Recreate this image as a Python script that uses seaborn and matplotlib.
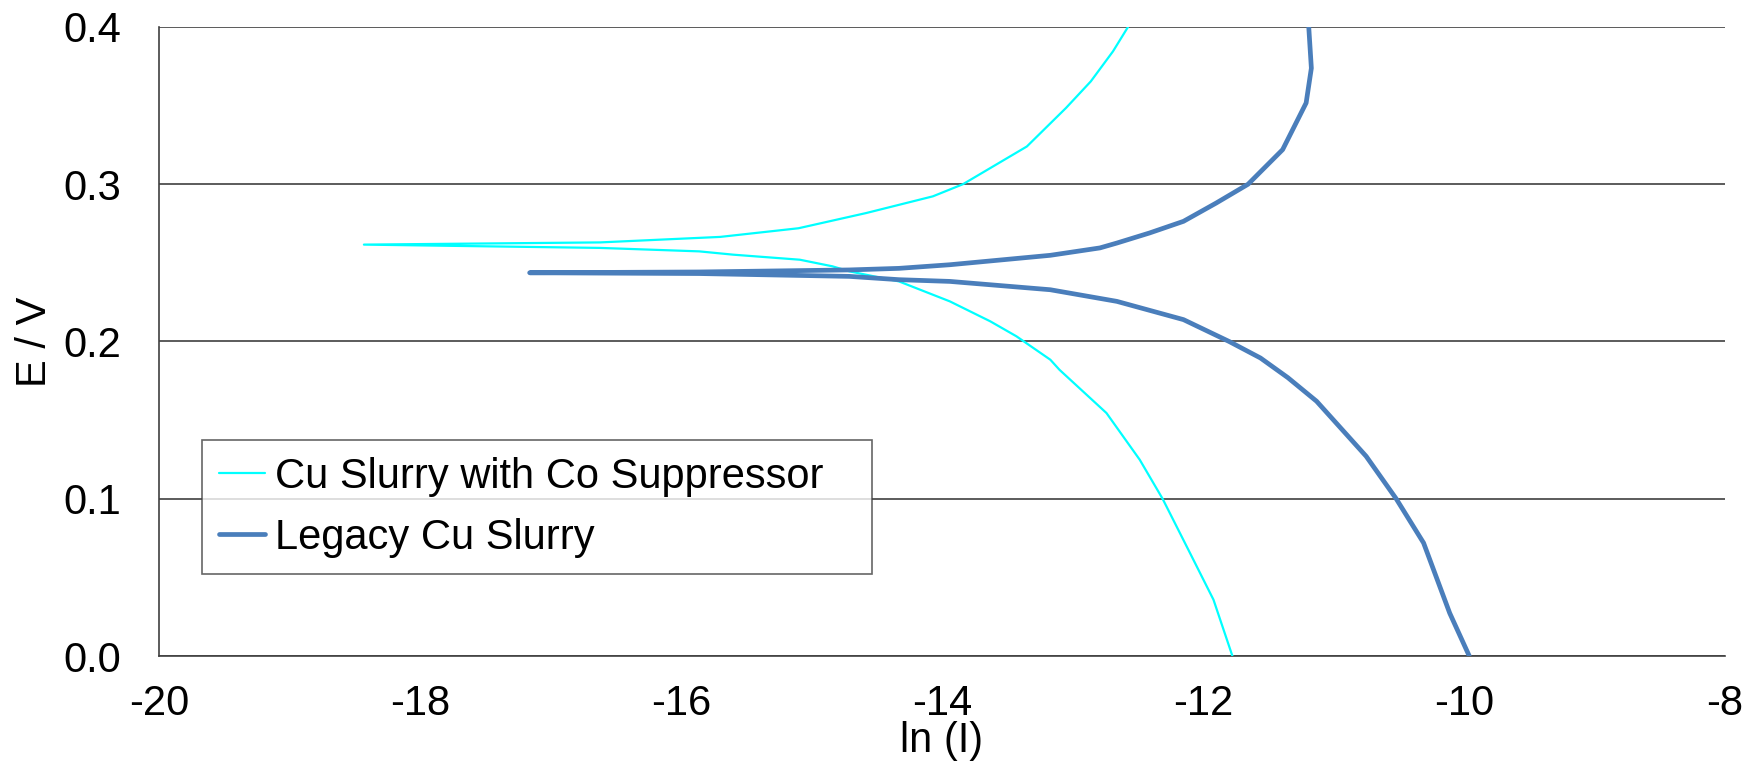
import matplotlib
matplotlib.use("Agg")
import matplotlib.pyplot as plt
import seaborn as sns
import pandas as pd

# Tafel curves: ln(I) vs E, read from cathodic end (E=0) round the tip to E=0.4
co_supp_lnI = [-11.775, -11.92, -12.10, -12.31, -12.485, -12.74, -13.10, -13.17,
               -13.43, -13.63, -13.94, -14.33, -14.71, -14.84, -15.09, -15.6,
               -15.86, -16.62, -18.43,
               -16.62, -15.7, -15.1, -14.58, -14.07, -13.84, -13.35, -13.05,
               -12.86, -12.69, -12.575]
co_supp_E = [0.0, 0.0358, 0.0655, 0.100, 0.1248, 0.1545, 0.182, 0.1884,
             0.2033, 0.2128, 0.2255, 0.2382, 0.2446, 0.2478, 0.252, 0.2552,
             0.2573, 0.2595, 0.2616,
             0.263, 0.2665, 0.272, 0.2817, 0.2923, 0.300, 0.324, 0.3485,
             0.3654, 0.3845, 0.400]

legacy_lnI = [-9.96, -10.11, -10.31, -10.52, -10.75, -11.13, -11.35, -11.56,
              -11.80, -12.15, -12.66, -13.17, -13.94, -14.33, -14.71, -15.86,
              -17.16,
              -15.86, -14.71, -14.33, -13.94, -13.17, -12.79, -12.66,
              -12.41, -12.15, -11.90, -11.655, -11.39, -11.21, -11.17,
              -11.19]
legacy_E = [0.0, 0.0273, 0.0719, 0.100, 0.127, 0.162, 0.177, 0.1895,
            0.200, 0.2139, 0.2255, 0.2329, 0.2382, 0.2393, 0.2414, 0.2432,
            0.2437,
            0.2442, 0.2455, 0.2465, 0.2488, 0.2548, 0.2595, 0.2626,
            0.269, 0.2764, 0.288, 0.300, 0.322, 0.3517, 0.3738,
            0.400]

labels = ["Cu Slurry with Co Suppressor", "Legacy Cu Slurry"]
x_ticks = [-20, -18, -16, -14, -12, -10, -8]
y_ticks = [0.0, 0.1, 0.2, 0.3, 0.4]

sns.set_style("white")
plt.rcParams['font.family'] = ['Liberation Sans', 'DejaVu Sans']
plt.rcParams['text.color'] = 'black'
plt.rcParams['axes.labelcolor'] = 'black'
plt.rcParams['xtick.color'] = 'black'
plt.rcParams['ytick.color'] = 'black'

fig = plt.figure(figsize=(17.59, 7.66), dpi=100)
ax = fig.add_axes([0.0904, 0.1436, 0.8903, 0.8212])

df1 = pd.DataFrame({"lnI": co_supp_lnI, "E": co_supp_E})
df2 = pd.DataFrame({"lnI": legacy_lnI, "E": legacy_E})
sns.lineplot(data=df1, x="lnI", y="E", sort=False, estimator=None, ax=ax,
             color="#00ffff", linewidth=1.6, label=labels[0], zorder=3)
sns.lineplot(data=df2, x="lnI", y="E", sort=False, estimator=None, ax=ax,
             color="#4a7ebb", linewidth=3.4, label=labels[1], zorder=3,
             solid_capstyle="round", solid_joinstyle="round")

ax.set_xlim(-20, -8)
ax.set_ylim(0, 0.4)
ax.set_xticks(x_ticks)
ax.set_yticks(y_ticks)
ax.set_xticklabels([str(t) for t in x_ticks])
ax.set_yticklabels(["%.1f" % t for t in y_ticks])
ax.tick_params(axis="x", labelsize=30, pad=20, length=0)
ax.tick_params(axis="y", labelsize=30, pad=27, length=0)
ax.grid(axis="y", color="#404040", linewidth=1.2)
ax.set_axisbelow(True)
for s in ["top", "right"]:
    ax.spines[s].set_visible(False)
for s in ["left", "bottom"]:
    ax.spines[s].set_color("#404040")
    ax.spines[s].set_linewidth(1.2)

ax.set_xlabel("ln (I)", fontsize=30, labelpad=-2)
ax.set_ylabel("E / V", fontsize=30, labelpad=6)

leg = ax.legend(loc="lower left", bbox_to_anchor=(0.0275, 0.13, 0.428, 0.2245),
                mode="expand", fontsize=30, frameon=True, fancybox=False,
                handlelength=1.1, handletextpad=0.25, labelspacing=0.5,
                borderpad=0.4, borderaxespad=0)
leg.get_frame().set_edgecolor("#404040")
leg.get_frame().set_linewidth(1.2)

plt.savefig("out.png", dpi=100)
